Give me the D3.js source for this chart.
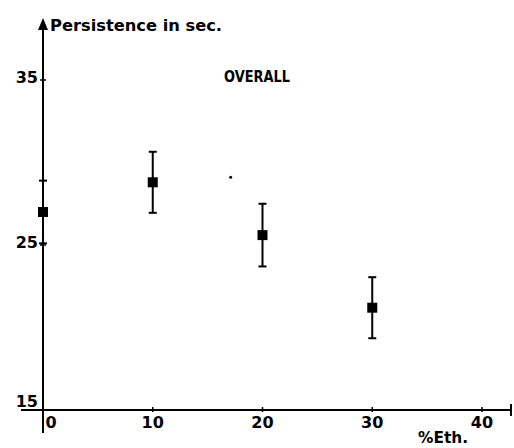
<!DOCTYPE html>
<html>
<head>
<meta charset="utf-8">
<script src="https://cdn.jsdelivr.net/npm/d3@7"></script>
<style>
  body { margin: 0; background: #fff; }
  text { font-family: "DejaVu Sans", sans-serif; font-weight: bold; fill: #000; }
</style>
</head>
<body>
<svg id="chart" width="514" height="448"></svg>
<script>

// data
var ethanol = [0, 10, 20, 30];
var persistence = [27.0, 28.8, 25.6, 21.2];
var errors = [1.9, 1.85, 1.9, 1.85];
var xTicks = [0, 10, 20, 30, 40];
var yTicks = [15, 25, 35];
var speck = [[17.1, 29.1]];

var svg = d3.select("#chart");

var x = d3.scaleLinear().domain([0, 40]).range([43, 482]);
var y = d3.scaleLinear().domain([15, 35]).range([410, 80]);

/* axes, drawn by hand to look like the scanned figure */
var axes = svg.append("g").attr("class", "axes");

// y axis with arrow at the top
axes.append("line")
    .attr("x1", x(0)).attr("x2", x(0))
    .attr("y1", 28).attr("y2", 433)
    .attr("stroke", "#000").attr("stroke-width", 2);

axes.append("path")
    .attr("d", "M" + x(0) + ",18 L" + (x(0) - 5) + ",30 L" + (x(0) + 5) + ",30 Z")
    .attr("fill", "#000");

// x axis, runs a bit left of the y axis and past 40
axes.append("line")
    .attr("x1", 21).attr("x2", 511)
    .attr("y1", y(15)).attr("y2", y(15))
    .attr("stroke", "#000").attr("stroke-width", 2);

axes.append("line")
    .attr("x1", 511).attr("x2", 511)
    .attr("y1", y(15) - 6).attr("y2", y(15) + 6)
    .attr("stroke", "#000").attr("stroke-width", 2);

// x ticks + labels
axes.selectAll("line.xtick")
    .data(xTicks.slice(1))
  .enter().append("line")
    .attr("class", "xtick")
    .attr("x1", function(d) { return x(d); })
    .attr("x2", function(d) { return x(d); })
    .attr("y1", y(15) - 3).attr("y2", y(15) + 2)
    .attr("stroke", "#000").attr("stroke-width", 1.5);

axes.selectAll("text.xlabel")
    .data(xTicks)
  .enter().append("text")
    .attr("class", "xlabel")
    .attr("x", function(d) { return d === 0 ? x(d) + 8 : x(d); })
    .attr("y", y(15) + 18)
    .attr("text-anchor", "middle")
    .attr("font-size", 16)
    .text(function(d) { return d; });

// y ticks + labels
axes.selectAll("line.ytick")
    .data(yTicks.slice(1))
  .enter().append("line")
    .attr("class", "ytick")
    .attr("x1", x(0) - 3).attr("x2", x(0) + 3)
    .attr("y1", function(d) { return y(d); })
    .attr("y2", function(d) { return y(d); })
    .attr("stroke", "#000").attr("stroke-width", 1.5);

axes.selectAll("text.ylabel")
    .data(yTicks)
  .enter().append("text")
    .attr("class", "ylabel")
    .attr("x", 38)
    .attr("y", function(d) { return d === 15 ? y(d) - 3 : y(d) + 3; })
    .attr("text-anchor", "end")
    .attr("font-size", 16)
    .text(function(d) { return d; });

// titles
svg.append("text")
    .attr("x", 50).attr("y", 31)
    .attr("font-size", 16)
    .attr("textLength", 172)
    .attr("lengthAdjust", "spacingAndGlyphs")
    .text("Persistence in sec.");

svg.append("text")
    .attr("x", 224).attr("y", 82)
    .attr("font-size", 16)
    .attr("textLength", 66)
    .attr("lengthAdjust", "spacingAndGlyphs")
    .text("OVERALL");

svg.append("text")
    .attr("x", 418).attr("y", 443)
    .attr("font-size", 15)
    .attr("textLength", 50)
    .attr("lengthAdjust", "spacingAndGlyphs")
    .text("%Eth.");

/* data: mean with error bar */
var pts = svg.append("g").attr("class", "points")
    .selectAll("g")
    .data(ethanol.map(function(e, i) { return { e: e, v: persistence[i], err: errors[i] }; }))
  .enter().append("g");

pts.append("line")
    .attr("x1", function(d) { return x(d.e); })
    .attr("x2", function(d) { return x(d.e); })
    .attr("y1", function(d) { return y(d.v + d.err); })
    .attr("y2", function(d) { return y(d.v - d.err); })
    .attr("stroke", "#000").attr("stroke-width", 2);

[1, -1].forEach(function(s) {
  pts.append("line")
      .attr("x1", function(d) { return x(d.e) - 4; })
      .attr("x2", function(d) { return x(d.e) + 4; })
      .attr("y1", function(d) { return y(d.v + s * d.err); })
      .attr("y2", function(d) { return y(d.v + s * d.err); })
      .attr("stroke", "#000").attr("stroke-width", 2);
});

pts.append("rect")
    .attr("x", function(d) { return x(d.e) - 5; })
    .attr("y", function(d) { return y(d.v) - 5; })
    .attr("width", 10).attr("height", 10)
    .attr("fill", "#000");

// the stray speck in the scan
svg.selectAll("circle.speck")
    .data(speck)
  .enter().append("circle")
    .attr("class", "speck")
    .attr("cx", function(d) { return x(d[0]); })
    .attr("cy", function(d) { return y(d[1]); })
    .attr("r", 1.5)
    .attr("fill", "#000");

</script>
</body>
</html>
